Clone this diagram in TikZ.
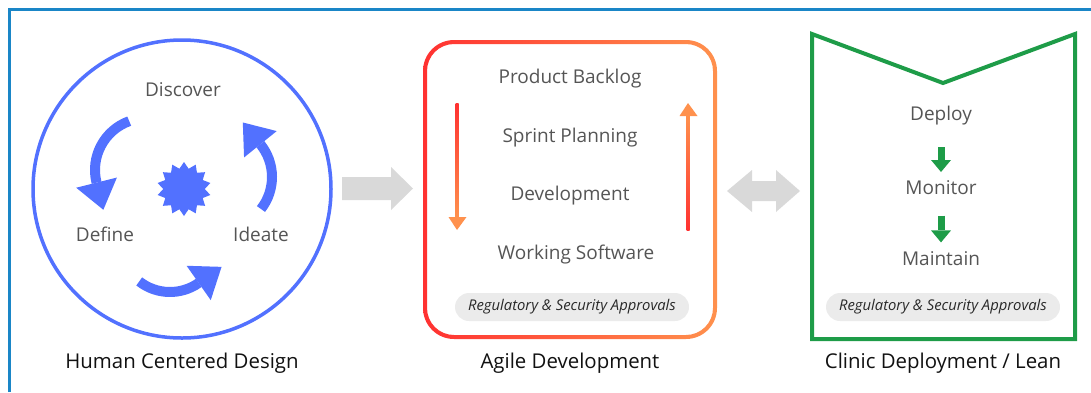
\documentclass[tikz,border=0pt]{standalone}
\usepackage{fontspec}
\setmainfont{Open Sans}
\usepackage{tikz}
\usetikzlibrary{shapes.geometric,arrows.meta,positioning,calc}
\definecolor{FrameBlue}{HTML}{1A86C7}
\definecolor{HCDBlue}{HTML}{5271FF}
\definecolor{AgileRed}{HTML}{FF3131}
\definecolor{AgileOrange}{HTML}{FF914D}
\definecolor{LeanGreen}{HTML}{1E9C48}
\definecolor{ArrowGray}{HTML}{D9D9D9}
\definecolor{PillGray}{HTML}{EBEBEB}
\definecolor{LabelGray}{HTML}{555555}
\definecolor{CaptionBlack}{HTML}{111111}
\tikzset{
    % plain step names
    step label/.style={
        text=LabelGray,
        inner sep=0pt,
        text height=7pt,
        text depth=0.2pt,
        font=\fontsize{9.5}{11}\selectfont
    },
    % section titles under each block
    caption/.style={
        text=CaptionBlack,
        inner sep=0pt,
        font=\fontsize{10.2}{12}\selectfont
    },
    approval pill/.style={
        rectangle,
        rounded corners=7pt,
        fill=PillGray,
        text=CaptionBlack!90,
        minimum width=117pt,
        minimum height=14pt,
        inner sep=0pt,
        font=\fontsize{7.4}{9}\selectfont\itshape
    },
    cycle arrow/.style={
        HCDBlue,
        line width=5pt,
        -{Triangle[width=21pt,length=14pt,line width=0pt]}
    },
    lean arrow/.style={
        LeanGreen,
        line width=3.5pt,
        -{Triangle[width=10pt,length=6pt,line width=0pt]}
    },
    block arrow/.style={
        fill=ArrowGray
    }
}

\begin{document}
\begin{tikzpicture}[x=0.5pt, y=-0.5pt, node distance=21.65pt]
    \useasboundingbox (0,0) rectangle (1091,392);

    % frame, only top and left edge
    \draw[FrameBlue, line width=1.5pt] (9,392) -- (9,9) -- (1091,9);

    % Human centered design
    \draw[HCDBlue, line width=1.75pt] (182,189) circle[radius=149];
    \node[star, star points=14, star point ratio=1.3, minimum size=27pt,
          inner sep=0pt, fill=HCDBlue] (spark) at (184,189) {};
    \node[step label] (discover) at (183,90) {Discover};
    \node[step label] (define) at (105,235) {Define};
    \node[step label] (ideate) at (261,235) {Ideate};
    \draw[cycle arrow] (147,170) ++(250:52) arc[start angle=250, end angle=166, radius=52] -- ++(6.8,27.2);
    \draw[cycle arrow] (170,242) ++(128:50) arc[start angle=128, end angle=55, radius=50] -- ++(22.9,-16.1);
    \draw[cycle arrow] (220,177) ++(38:52) arc[start angle=38, end angle=-39, radius=52] -- ++(-17.6,-21.8);
    \node[caption] (hcd) at (182,363) {Human Centered Design};

    % arrow into agile
    \fill[block arrow] (342,177) -- (391,177) -- (391,167) -- (413,188.5) -- (391,210) -- (391,200) -- (342,200) -- cycle;

    % Agile box with gradient edge
    \shade[left color=AgileRed, right color=AgileOrange, even odd rule, rounded corners=15.5pt]
        (423,40) rectangle (717,339) [rounded corners=13.5pt] (427,44) rectangle (713,335);
    \node[step label] (backlog) at (570,77) {Product Backlog};
    \node[step label, below=of backlog] (planning) {Sprint Planning};
    \node[step label, below=of planning] (development) {Development};
    \node[step label, below=of development, xshift=3pt] (software) {Working Software};
    \shade[top color=AgileRed, bottom color=AgileOrange] (455.5,103) rectangle (458.5,218);
    \fill[AgileOrange] (448.5,217) -- (466.5,217) -- (457,230) -- cycle;
    \shade[top color=AgileOrange, bottom color=AgileRed] (686.5,115) rectangle (689.5,230);
    \fill[AgileOrange] (679.5,116) -- (697.5,116) -- (688,103) -- cycle;
    \node[approval pill] (agile_ok) at (572,307) {Regulatory \& Security Approvals};
    \node[caption] (agile) at (570,363) {Agile Development};

    % two way arrow
    \fill[block arrow] (727,191) -- (752,170) -- (752,181) -- (776,181) -- (776,170) -- (800,191)
        -- (776,212) -- (776,201) -- (752,201) -- (752,212) -- cycle;

    % Clinic / lean
    \draw[LeanGreen, line width=2pt] (812,34) -- (943,83) -- (1075,34) -- (1075,339) -- (812,339) -- cycle;
    \node[step label] (deploy) at (941,114) {Deploy};
    \node[step label, below=29.3pt of deploy] (monitor) {Monitor};
    \node[step label, below=27.8pt of monitor] (maintain) {Maintain};
    \draw[lean arrow, shorten <=12.9pt, shorten >=4.1pt] (deploy) -- (monitor);
    \draw[lean arrow, shorten <=10.1pt, shorten >=4.3pt] (monitor) -- (maintain);
    \node[approval pill] (lean_ok) at (943,307) {Regulatory \& Security Approvals};
    \node[caption] (lean) at (943,363) {Clinic Deployment / Lean};
\end{tikzpicture}
\end{document}
